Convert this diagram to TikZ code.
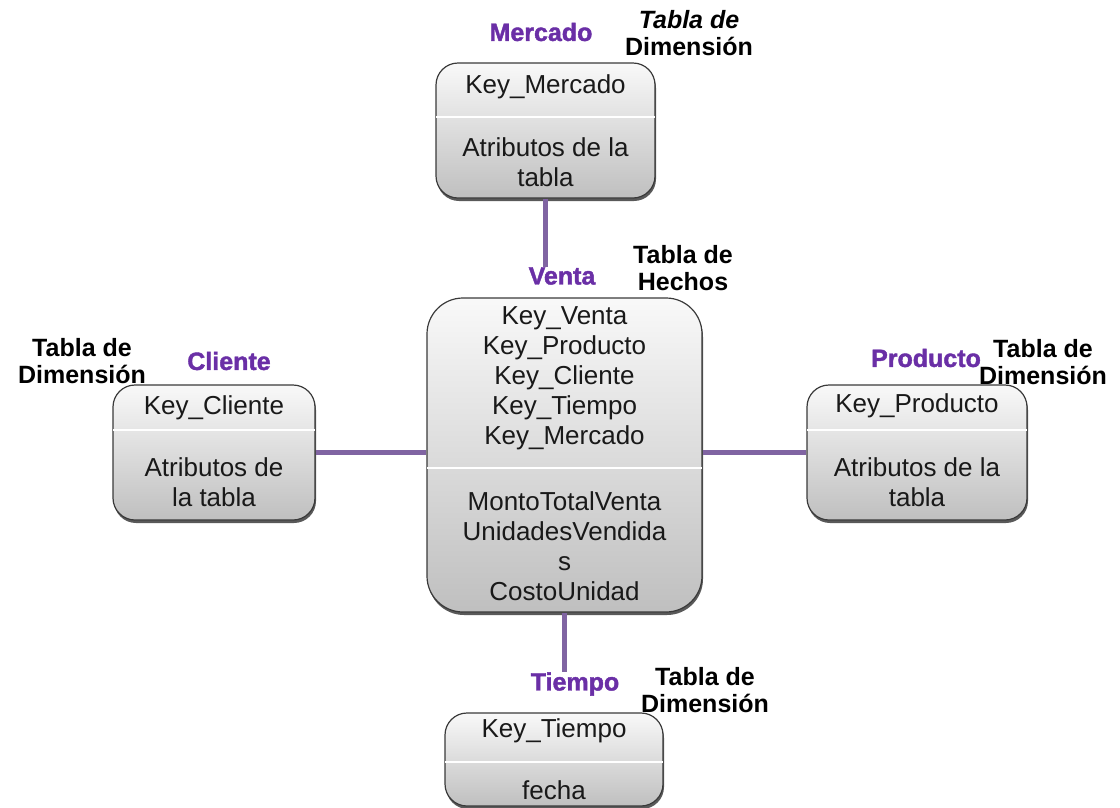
\documentclass[tikz,border=0pt]{standalone}
\usepackage{fontspec}
\setmainfont{Liberation Sans}
\newfontfamily\heavyfont{Liberation Sans}[BoldFeatures={FakeBold=1.6}]
\usepackage{xcolor}
\usepackage{tikz}
\usetikzlibrary{shadows,positioning}
\definecolor{linkPurple}{HTML}{8064A2}
\definecolor{namePurple}{HTML}{6A2FA6}
\definecolor{boxEdge}{HTML}{3A3A3A}
\tikzstyle{tablebox} = [draw=boxEdge, line width=1.2pt, rounded corners=22pt,
  top color=gray!5, bottom color=gray!50,
  drop shadow={shadow xshift=1pt, shadow yshift=-3pt, fill=black, opacity=.65}]
\tikzstyle{field} = [align=center, inner sep=0pt, text=black!90,
  font={\fontsize{26}{30}\selectfont}]
\tikzstyle{tname} = [inner sep=0pt, text=namePurple,
  font={\heavyfont\fontsize{25}{28}\selectfont\bfseries}]
\tikzstyle{kind} = [align=center, inner sep=0pt,
  font={\fontsize{25}{27}\selectfont\bfseries}]
\tikzstyle{link} = [draw=linkPurple, line width=4.5pt]
\tikzstyle{divider} = [draw=white, line width=2.5pt, shorten >=1pt, shorten <=1pt]

\begin{document}
\begin{tikzpicture}[
      x=1pt, y=-1pt
    ]
      \useasboundingbox (0,0) rectangle (1120,807);

      % tablas
      \node[tablebox, minimum width=219pt, minimum height=135pt] (bMercado)  at (545.5,130.5) {};
      \node[tablebox, minimum width=275pt, minimum height=314pt,
            rounded corners=36pt]                                (bVenta)    at (564.5,455)   {};
      \node[tablebox, minimum width=202pt, minimum height=135pt] (bCliente)  at (214,452.5)   {};
      \node[tablebox, minimum width=220pt, minimum height=135pt] (bProducto) at (917,452.5)   {};
      \node[tablebox, minimum width=218pt, minimum height=93pt]  (bTiempo)   at (554,759.5)   {};

      \draw[divider] (bMercado.west  |- 0,117) -- (bMercado.east  |- 0,117);
      \draw[divider] (bVenta.west    |- 0,468) -- (bVenta.east    |- 0,468);
      \draw[divider] (bCliente.west  |- 0,430) -- (bCliente.east  |- 0,430);
      \draw[divider] (bProducto.west |- 0,430) -- (bProducto.east |- 0,430);
      \draw[divider] (bTiempo.west   |- 0,762) -- (bTiempo.east   |- 0,762);

      % campos
      \node[field] (kMercado)  at (545.5,87)  {Key\_Mercado};
      \node[field] (aMercado)  at (545.5,162) {Atributos de la\\tabla};
      \node[field] (kVenta)    at (564.5,378) {Key\_Venta\\Key\_Producto\\Key\_Cliente\\Key\_Tiempo\\Key\_Mercado};
      \node[field] (aVenta)    at (564.5,546) {MontoTotalVenta\\UnidadesVendida\\s\\CostoUnidad};
      \node[field] (kCliente)  at (214,408)   {Key\_Cliente};
      \node[field] (aCliente)  at (214,482)   {Atributos de\\la tabla};
      \node[field] (kProducto) at (917,406)   {Key\_Producto};
      \node[field] (aProducto) at (917,482)   {Atributos de la\\tabla};
      \node[field] (kTiempo)   at (554,731)   {Key\_Tiempo};
      \node[field] (aTiempo)   at (554,790)   {fecha};

      % nombres
      \node[tname] (nMercado)  at (541,32)  {Mercado};
      \node[tname] (nVenta)    at (562,276) {Venta};
      \node[tname] (nCliente)  at (229,361) {Cliente};
      \node[tname] (nProducto) at (926,358) {Producto};
      \node[tname] (nTiempo)   at (575,684) {Tiempo};

      \node[kind] (tMercado)  at (689,33)  {\textit{Tabla de}\\Dimensión};
      \node[kind] (tVenta)    at (683,268) {Tabla de\\Hechos};
      \node[kind] (tCliente)  at (82,361)  {Tabla de\\Dimensión};
      \node[kind] (tProducto) at (1043,362) {Tabla de\\Dimensión};
      \node[kind] (tTiempo)   at (705,690) {Tabla de\\Dimensión};

      % relaciones
      \path[link] (bMercado.south) -- (bMercado.south |- nVenta.north);
      \path[link] (bCliente.east)  -- (bCliente.east -| bVenta.west);
      \path[link] (bProducto.west -| bVenta.east) -- (bProducto.west);
      \path[link] (bVenta.south)   -- (bVenta.south |- nTiempo.north);
    \end{tikzpicture}
\end{document}
